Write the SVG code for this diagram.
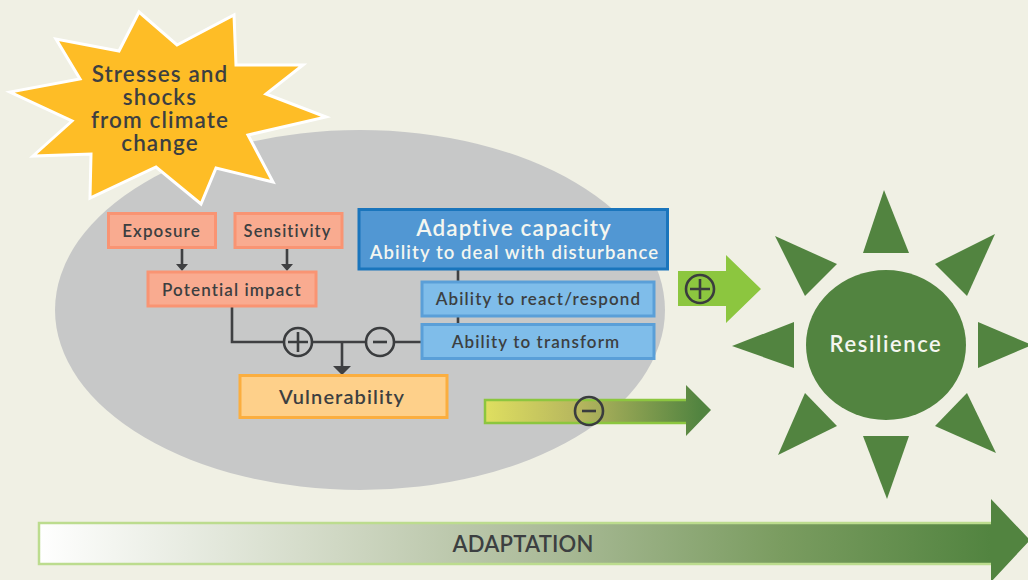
<svg xmlns="http://www.w3.org/2000/svg" width="1028" height="580" viewBox="0 0 1028 580">
<style>
text{font-family:"Lato","Liberation Sans",sans-serif;font-weight:600;text-anchor:middle;fill:#3c3f41;letter-spacing:1.1px}
.w{fill:#f4f6f0}
.p{fill:#f9ab90;stroke:#f99473;stroke-width:3}
.b{fill:#7fbdea;stroke:#5a9fd8;stroke-width:3}
.l{fill:none;stroke:#3f4042;stroke-width:2.6}
.g{fill:#528440}
.c{fill:none;stroke:#3a3c3e;stroke-width:2.6}
</style>
<defs>
<linearGradient id="g1" x1="0" x2="1" y1="0" y2="0"><stop offset="0" stop-color="#dfdf60"/><stop offset="0.42" stop-color="#b5b55e"/><stop offset="0.95" stop-color="#528440"/></linearGradient>
<linearGradient id="g2" x1="0" x2="1" y1="0" y2="0"><stop offset="0" stop-color="#ffffff"/><stop offset="0.3" stop-color="#d0d8c4"/><stop offset="0.5" stop-color="#aebd9c"/><stop offset="0.75" stop-color="#7a9c60"/><stop offset="0.96" stop-color="#528440"/></linearGradient>
</defs>
<rect width="1028" height="580" fill="#f0f0e4"/>
<ellipse id="field" cx="360" cy="310" rx="305" ry="180" fill="#c7c8c8"/>
<g id="stress"><polygon points="139,12 177,45 234,15 236,65 303,65 266,94 326,117 248,135 273,182 216,168 201,204 156,167 90,198 91,154 33,156 72,121 10,92 80,79 56,39 119,51" fill="#febd26" stroke="#fff" stroke-width="3"/>
<text font-size="22.500"><tspan x="160" y="82">Stresses and</tspan><tspan x="160" y="105">shocks</tspan><tspan x="160" y="128">from climate</tspan><tspan x="160" y="151">change</tspan></text></g>
<g id="connectors">
<path class="l" d="M182 248V266M287 248V266M232 307V342H421M342 342V366M458 270V281M458 317V323"/>
<path fill="#3f4042" d="M176 264h12l-6 7zM281 264h12l-6 7zM333 366h18l-9 9z"/>
</g>
<g id="exposure"><rect class="p" x="108.500" y="213.500" width="107" height="34"/><text x="161.500" y="237" font-size="17">Exposure</text></g>
<g id="sensitivity"><rect class="p" x="235" y="213.500" width="107" height="34"/><text x="287.500" y="237" font-size="16.500">Sensitivity</text></g>
<g id="potential"><rect class="p" x="148" y="272" width="168" height="34"/><text x="232" y="296" font-size="17">Potential impact</text></g>
<g id="vulnerability"><rect x="240" y="375.500" width="207" height="42" fill="#fed08a" stroke="#fbae3f" stroke-width="3"/><text x="342" y="404" font-size="20">Vulnerability</text></g>
<g id="adaptive"><rect x="359" y="209.500" width="308.500" height="59.500" fill="#5197d3" stroke="#1a75bc" stroke-width="3"/><text class="w" x="514" y="236" font-size="22.500">Adaptive capacity</text><text class="w" x="514.500" y="259" font-size="18.500">Ability to deal with disturbance</text></g>
<g id="react"><rect class="b" x="422" y="282" width="232" height="34"/><text x="538.500" y="305" font-size="17">Ability to react/respond</text></g>
<g id="transform"><rect class="b" x="422" y="324.500" width="232" height="34"/><text x="536" y="348" font-size="17">Ability to transform</text></g>
<g id="plus1"><circle cx="298" cy="342" r="14" fill="#c7c8c8" stroke="#3a3c3e" stroke-width="2.600"/><path class="c" d="M288 342H308M298 332V352"/></g>
<g id="minus1"><circle cx="380" cy="342" r="14" fill="#c7c8c8" stroke="#3a3c3e" stroke-width="2.600"/><path class="c" d="M373 342H387"/></g>
<g id="plusarrow"><polygon points="678,271 726,271 726,255 761,289 726,323 726,306 678,306" fill="#8cc63f"/><circle class="c" cx="700" cy="289" r="14"/><path class="c" d="M690 289H710M700 279V299"/></g>
<g id="minusarrow"><polygon points="485,400 686,400 686,385 711,410 686,436 686,423 485,423" fill="url(#g1)"/><path d="M686 400H485V423H686" fill="none" stroke="#8cc63f" stroke-width="2.500"/><circle class="c" cx="589" cy="411" r="14"/><path class="c" d="M582 411H596"/></g>
<g id="resilience"><ellipse class="g" cx="886" cy="345" rx="80" ry="75"/>
<polygon class="g" points="884,190 909,253 863,253"/><polygon class="g" points="995,234 967,296 935,264"/><polygon class="g" points="978,322 1032,345 978,368"/><polygon class="g" points="996,453 935,426 967,393"/><polygon class="g" points="887,499 863,436 909,436"/><polygon class="g" points="778,455 805,393 837,426"/><polygon class="g" points="732,346 794,322 794,368"/><polygon class="g" points="775,236 837,264 805,296"/>
<text class="w" x="886" y="352" font-size="22" style="letter-spacing:1.6px">Resilience</text></g>
<g id="adaptation"><polygon points="38,522 991,522 991,499 1030,540 991,582 991,565 38,565" fill="url(#g2)"/><path d="M991 523H39V564H991" fill="none" stroke="#bcdc8e" stroke-width="2.500"/><text x="523" y="552" font-size="22" style="letter-spacing:0.2px">ADAPTATION</text></g>
</svg>
